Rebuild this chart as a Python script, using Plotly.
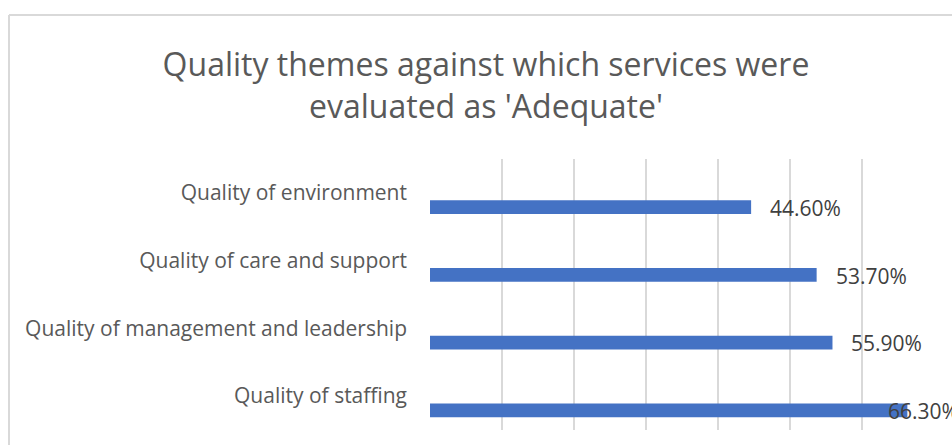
import plotly.graph_objects as go

categories = [
    "Quality of staffing",
    "Quality of management and leadership",
    "Quality of care and support",
    "Quality of environment",
]
values = [0.663, 0.559, 0.537, 0.446]
labels = ["66.30%", "55.90%", "53.70%", "44.60%"]
x_ticks = [0, 0.1, 0.2, 0.3, 0.4, 0.5, 0.6, 0.7]

W, H = 952, 445
ML, MR, MT, MB = 430, 18, 159, 15
x_max = 0.7
px_per_unit = (W - ML - MR) / x_max

fig = go.Figure()
fig.add_trace(go.Bar(
    x=values,
    y=categories,
    orientation="h",
    marker=dict(color="#4472C4", line=dict(width=0)),
    width=0.2,
    offset=-0.31,
    hoverinfo="skip",
))

annotations = []
label_w = 71
for v, c, t in zip(values, categories, labels):
    end_px = ML + v * px_per_unit
    if end_px + 17 + label_w > W + 5:
        shift = -21
    else:
        shift = 17
    annotations.append(dict(
        x=v, y=c, xref="x", yref="y", text=t, showarrow=False,
        xanchor="left", yanchor="middle", xshift=shift, yshift=-15,
        font=dict(family="Open Sans", size=21, color="#404040"),
    ))

fig.update_layout(
    width=W, height=H,
    margin=dict(l=ML, r=MR, t=MT, b=MB),
    paper_bgcolor="white", plot_bgcolor="white",
    showlegend=False,
    title=dict(
        text="Quality themes against which services were<br>evaluated as 'Adequate'",
        x=486 / W, xanchor="center", xref="container",
        y=1 - 76 / H, yanchor="middle", yref="container",
        font=dict(family="Open Sans", size=32, color="#595959"),
    ),
    annotations=annotations,
    xaxis=dict(
        range=[0, x_max], tickvals=x_ticks, showticklabels=False,
        showgrid=True, gridcolor="#d9d9d9", gridwidth=1.5,
        zeroline=False, showline=False, fixedrange=True,
    ),
    yaxis=dict(
        categoryorder="array", categoryarray=categories,
        range=[-0.5, 3.5], showgrid=False, zeroline=False, showline=False,
        ticks="", ticklabelstandoff=22,
        tickfont=dict(family="Open Sans", size=21, color="#595959"),
        fixedrange=True,
    ),
    shapes=[
        dict(type="line", xref="paper", yref="paper", x0=-(ML - 9) / (W - ML - MR), x1=2,
             y0=1 + (MT - 15) / (H - MT - MB), y1=1 + (MT - 15) / (H - MT - MB),
             line=dict(color="#d9d9d9", width=2)),
        dict(type="line", xref="paper", yref="paper", x0=-(ML - 9) / (W - ML - MR), x1=-(ML - 9) / (W - ML - MR),
             y0=1 + (MT - 15) / (H - MT - MB), y1=-1,
             line=dict(color="#d9d9d9", width=2)),
    ],
)

fig.write_html("out.html", config={"displayModeBar": False})
